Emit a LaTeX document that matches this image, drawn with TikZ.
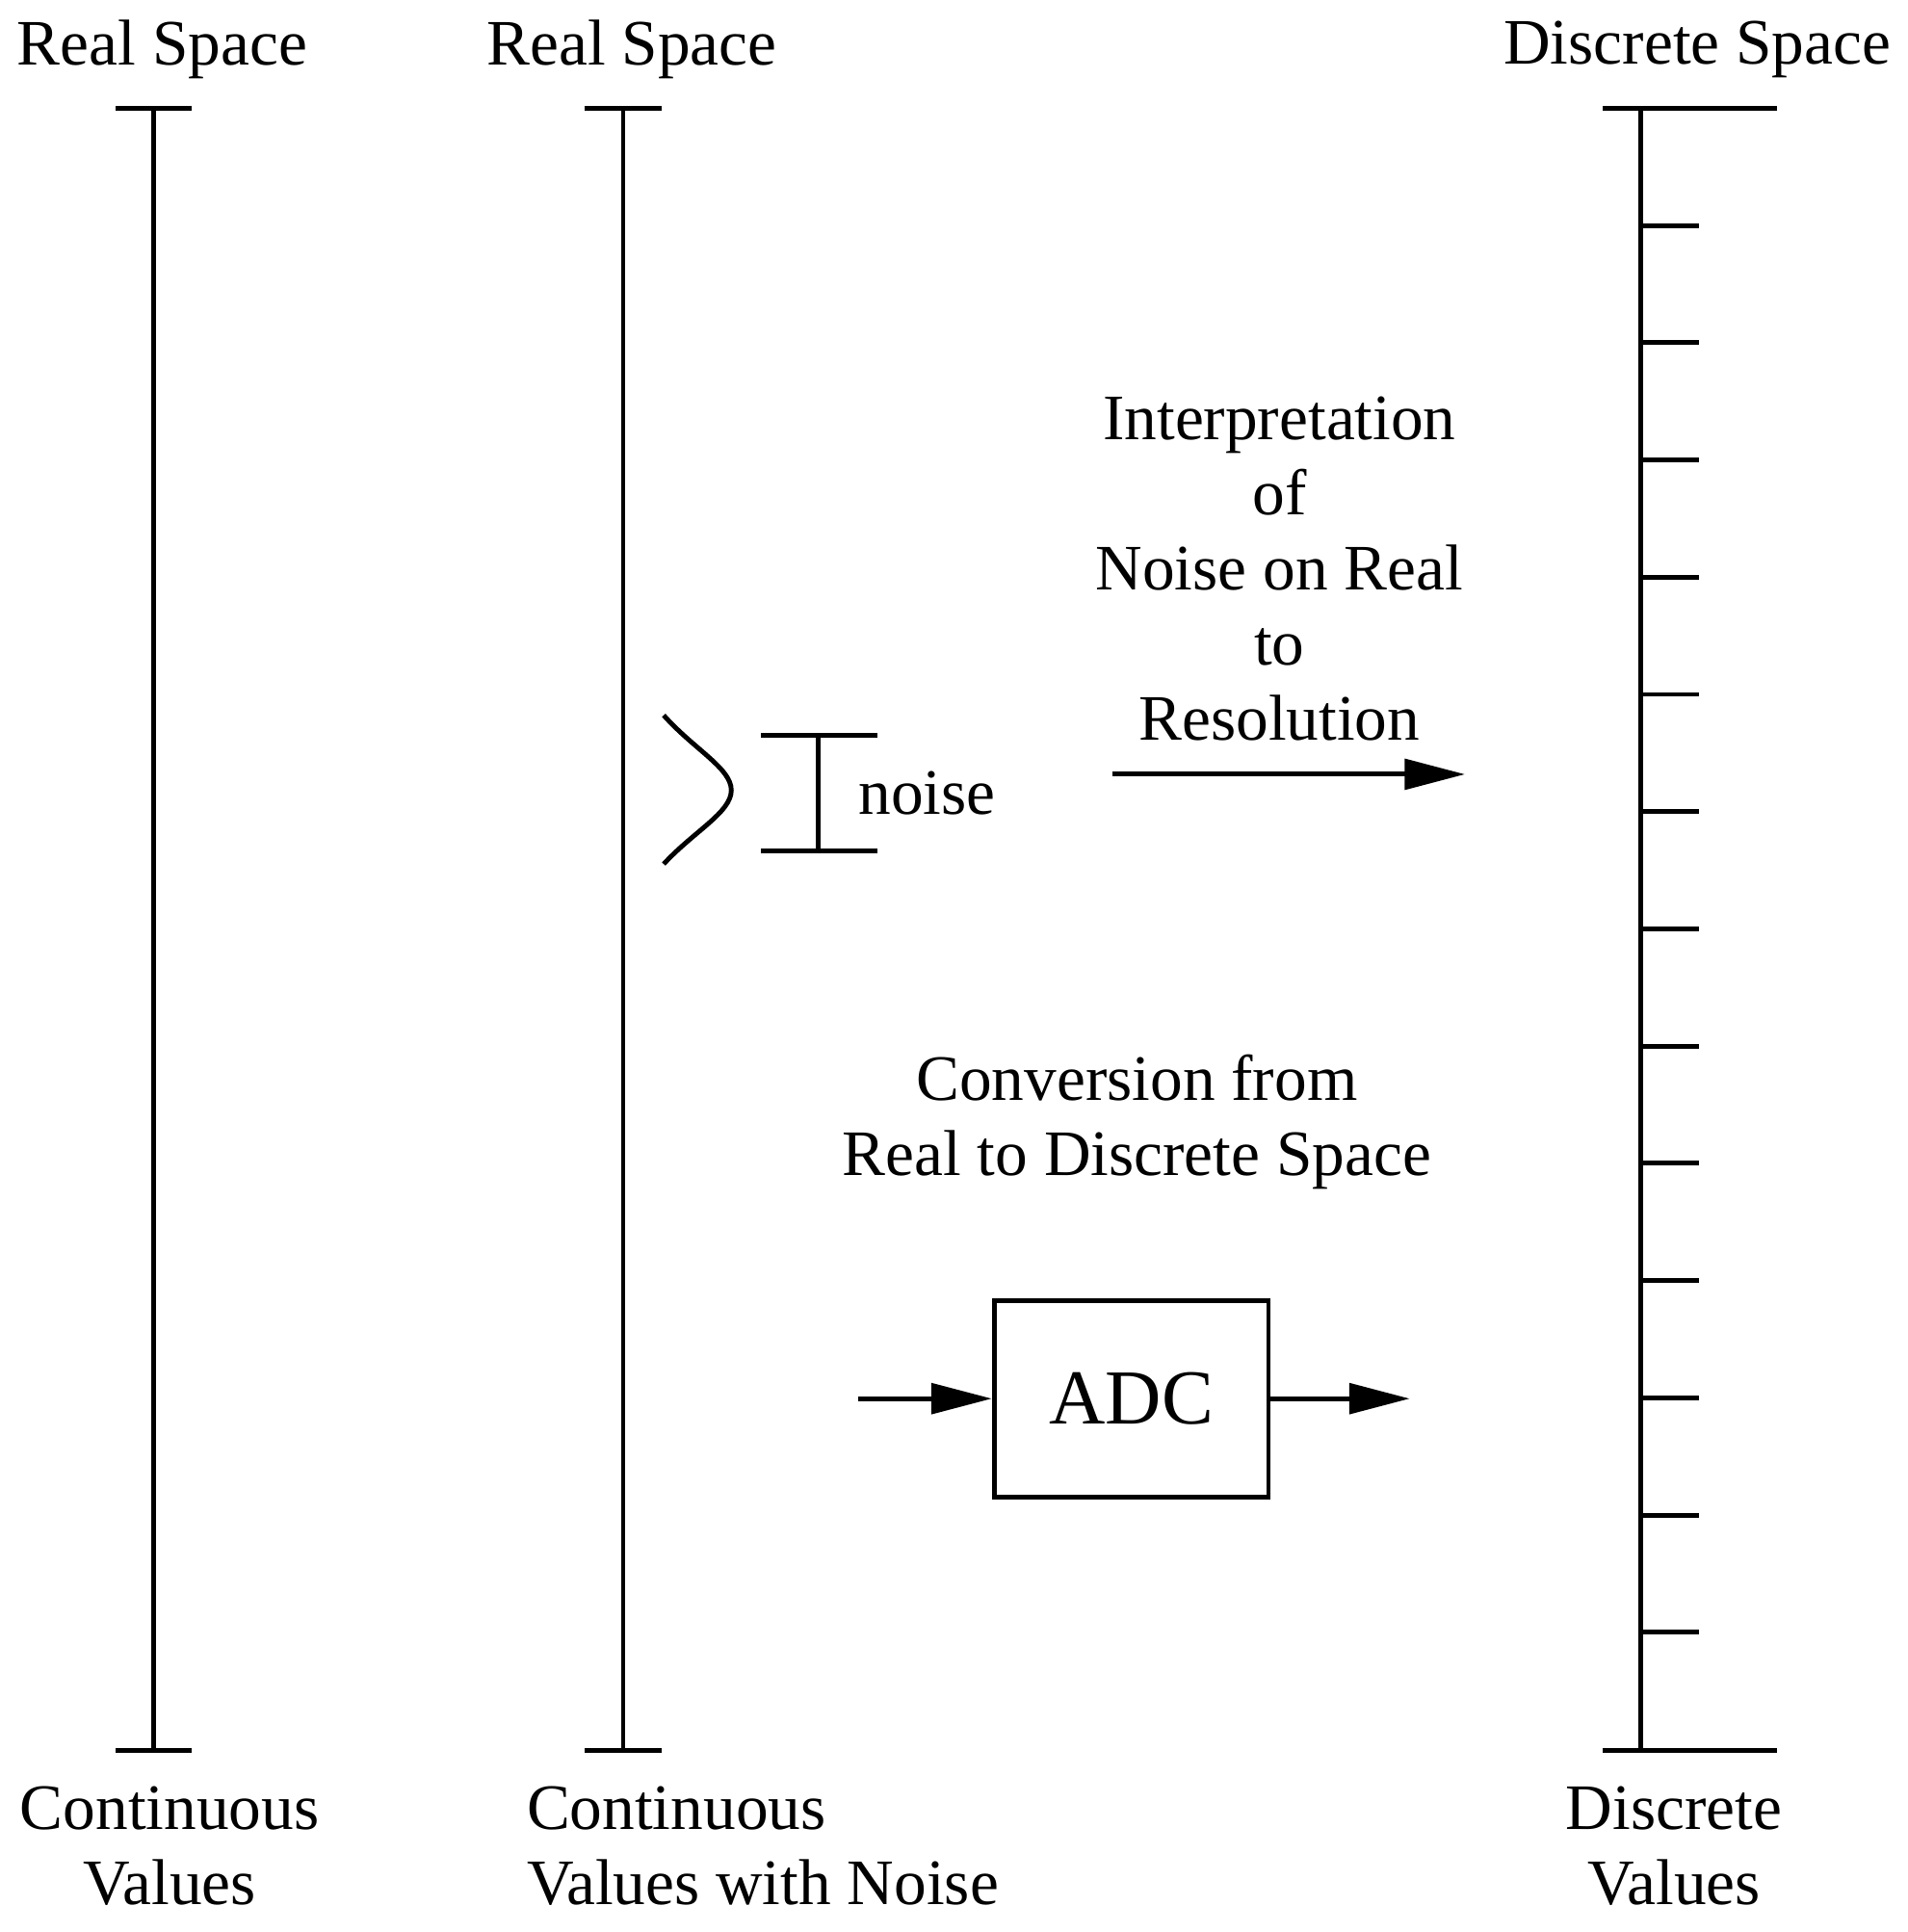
\documentclass[tikz,border=0pt]{standalone}
\usepackage{fontspec}
\setmainfont{Liberation Serif}
\usetikzlibrary{positioning,arrows.meta}

\tikzset{
  axis/.style={line width=1.1pt},
  lbl/.style={font=\fontsize{15}{17.4}\selectfont, align=center, inner sep=0pt},
  arr/.style={line width=1.1pt,-{Triangle[length=14pt,width=7pt]}}
}

\begin{document}
\begin{tikzpicture}[x=0.01cm,y=-0.01cm]
      \useasboundingbox (0,0) rectangle (1552,1572);

      % axes
      \coordinate (r1t) at (125,88);
      \coordinate (r1b) at (125,1424);
      \coordinate (r2t) at (507,88);
      \coordinate (r2b) at (507,1424);
      \coordinate (dt) at (1335,88);
      \coordinate (db) at (1335,1424);
      \draw[axis] (r1t) -- (r1b);
      \draw[axis] (r1t) ++(-31,0) -- ++(62,0);
      \draw[axis] (r1b) ++(-31,0) -- ++(62,0);
      \draw[axis] (r2t) -- (r2b);
      \draw[axis] (r2t) ++(-31,0) -- ++(62,0);
      \draw[axis] (r2b) ++(-31,0) -- ++(62,0);
      \draw[axis] (dt) -- (db);
      \draw[axis] (dt) ++(-31,0) -- ++(142,0);
      \draw[axis] (db) ++(-31,0) -- ++(142,0);
      \foreach \i in {1,...,13}
        \draw[axis] (1335,88+\i*95.4) -- ++(47,0);

      % titles
      \node[lbl] (t1) at (132,40) {Real Space};
      \node[lbl] (t2) at (514,40) {Real Space};
      \node[lbl] (t3) at (1381,40) {Discrete Space};
      \node[lbl] (b1) at (138,1502) {Continuous\\Values};
      \node[lbl,align=left,anchor=west] (b2) at (428,1502) {Continuous\\Values with Noise};
      \node[lbl] (b3) at (1362,1502) {Discrete\\Values};

      % noise
      \draw[axis] (540,582) .. controls (565,610) and (595,625) .. (595,643)
                            .. controls (595,661) and (565,676) .. (540,703);
      \coordinate (nt) at (666,598);
      \coordinate (nb) at (666,692);
      \draw[axis] (nt) -- (nb);
      \draw[axis] (nt) ++(-47,0) -- ++(95,0);
      \draw[axis] (nb) ++(-47,0) -- ++(95,0);
      \node[lbl,anchor=west] (noise) at (698,645) {noise};

      % interpretation
      \node[lbl] (interp) at (1041,463) {Interpretation\\of\\Noise on Real\\to\\Resolution};
      \coordinate (ia) at (905,630);
      \coordinate (ib) at (1192,630);
      \draw[arr] (ia) -- (ib);

      % conversion
      \node[lbl] (conv) at (925,913) {Conversion from\\Real to Discrete Space};
      \node[lbl,draw,line width=1.1pt,minimum width=2.23cm,minimum height=1.6cm,
            font=\fontsize{18}{20}\selectfont] (adc) at (920.5,1138) {ADC};
      \coordinate (in) at (698,1138);
      \coordinate (out) at (1147,1138);
      \draw[arr] (in) -- (adc);
      \draw[arr] (adc) -- (out);
\end{tikzpicture}
\end{document}
